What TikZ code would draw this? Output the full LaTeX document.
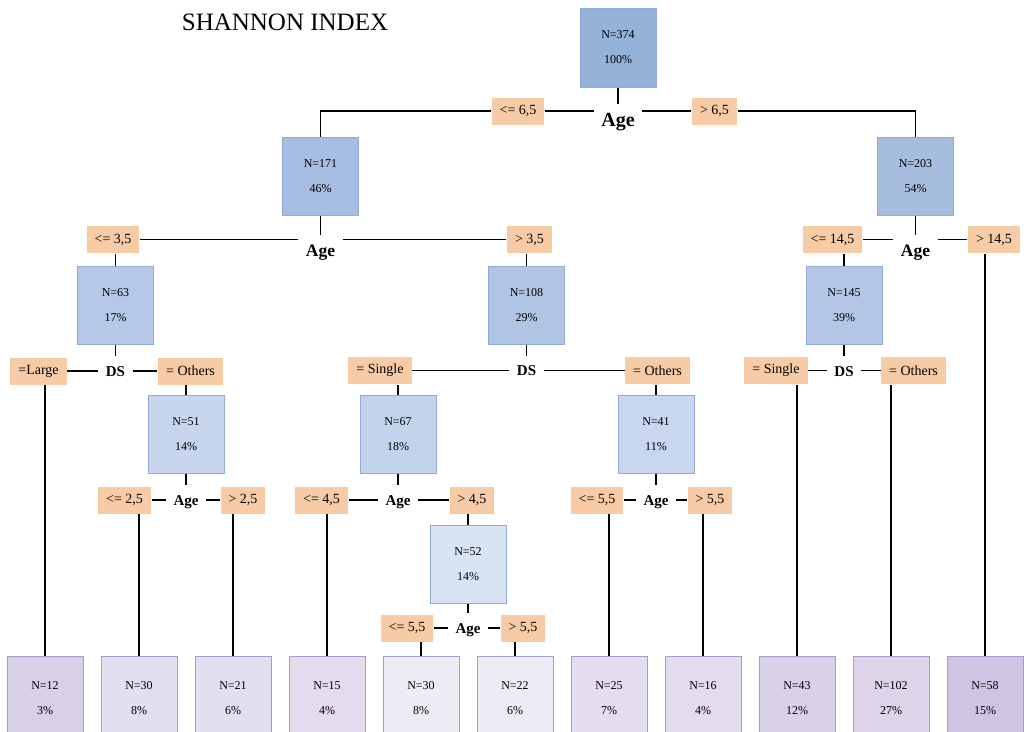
\documentclass[tikz,border=0pt]{standalone}
\usepackage{fontspec}
\setmainfont{Liberation Serif}
\definecolor{boxline}{HTML}{8FAADC}
\definecolor{leafline}{HTML}{A89CCB}
\definecolor{condfill}{HTML}{F8CBA7}
\definecolor{b374}{HTML}{95B3D7}
\definecolor{b171}{HTML}{A6BEE1}
\definecolor{b203}{HTML}{A6BDE0}
\definecolor{b63}{HTML}{B5C8E7}
\definecolor{b108}{HTML}{B0C4E4}
\definecolor{b145}{HTML}{B4C6E6}
\definecolor{b51}{HTML}{C7D6EE}
\definecolor{b67}{HTML}{C4D3EC}
\definecolor{b41}{HTML}{C8D6EF}
\definecolor{b52}{HTML}{D8E3F3}
\definecolor{f12}{HTML}{D8D0E7}
\definecolor{f30a}{HTML}{E4DFF0}
\definecolor{f21}{HTML}{E4DFF0}
\definecolor{f15}{HTML}{E2DCEE}
\definecolor{f30b}{HTML}{EEEBF5}
\definecolor{f22}{HTML}{EEEBF4}
\definecolor{f25}{HTML}{E3DDEF}
\definecolor{f16}{HTML}{E2DCEE}
\definecolor{f43}{HTML}{D9D1E7}
\definecolor{f102}{HTML}{DCD4E9}
\definecolor{f58}{HTML}{CFC5E2}

\begin{document}
\begin{tikzpicture}[x=1pt,y=-1pt,line width=1.3pt,
  inner/.style={draw=boxline,line width=1pt,minimum width=76pt,minimum height=78pt,inner sep=0pt,align=center,font=\fontsize{12}{25}\selectfont},
  leaf/.style={inner,draw=leafline,minimum height=84pt},
  cond/.style={fill=condfill,minimum height=27pt,inner xsep=8pt,inner ysep=0pt,font=\fontsize{14}{14}\selectfont},
  splitlab/.style={inner xsep=7pt,inner ysep=9pt,text depth=0pt},
  bigage/.style={splitlab,text height=13.6pt,font=\bfseries\fontsize{20}{20}\selectfont},
  midage/.style={splitlab,text height=11.9pt,font=\bfseries\fontsize{17.5}{17.5}\selectfont},
  smallsplit/.style={splitlab,text height=10.2pt,font=\bfseries\fontsize{15}{15}\selectfont}]
\useasboundingbox (0,0) rectangle (1024,731);
\node[font=\fontsize{25}{25}\selectfont] (title) at (285,22) {SHANNON INDEX};

\node[inner,fill=b374,minimum height=79pt] (n374) at (618,47.5) {N=374\\100\%};
\node[inner,fill=b171] (n171) at (320.5,176) {N=171\\46\%};
\node[inner,fill=b203] (n203) at (915.5,176) {N=203\\54\%};
\node[inner,fill=b63] (n63) at (115.5,305) {N=63\\17\%};
\node[inner,fill=b108] (n108) at (526.5,305) {N=108\\29\%};
\node[inner,fill=b145] (n145) at (844,305) {N=145\\39\%};
\node[inner,fill=b51] (n51) at (186,434) {N=51\\14\%};
\node[inner,fill=b67] (n67) at (398,434) {N=67\\18\%};
\node[inner,fill=b41] (n41) at (656,434) {N=41\\11\%};
\node[inner,fill=b52] (n52) at (468,564) {N=52\\14\%};

\node[leaf,fill=f12] (t1) at (45,698) {N=12\\3\%};
\node[leaf,fill=f30a] (t2) at (139,698) {N=30\\8\%};
\node[leaf,fill=f21] (t3) at (233,698) {N=21\\6\%};
\node[leaf,fill=f15] (t4) at (327,698) {N=15\\4\%};
\node[leaf,fill=f30b] (t5) at (421,698) {N=30\\8\%};
\node[leaf,fill=f22] (t6) at (515,698) {N=22\\6\%};
\node[leaf,fill=f25] (t7) at (609,698) {N=25\\7\%};
\node[leaf,fill=f16] (t8) at (703,698) {N=16\\4\%};
\node[leaf,fill=f43] (t9) at (797,698) {N=43\\12\%};
\node[leaf,fill=f102] (t10) at (891,698) {N=102\\27\%};
\node[leaf,fill=f58] (t11) at (985,698) {N=58\\15\%};

\node[bigage] (s1) at (618,120) {Age};
\node[midage] (s2) at (320.5,251) {Age};
\node[midage] (s3) at (915.5,251) {Age};
\node[smallsplit] (s4) at (115.5,371) {DS};
\node[smallsplit] (s5) at (526.5,370.5) {DS};
\node[smallsplit] (s6) at (844,371) {DS};
\node[smallsplit] (s7) at (186,500) {Age};
\node[smallsplit] (s8) at (398,500) {Age};
\node[smallsplit] (s9) at (656,500) {Age};
\node[smallsplit] (s10) at (468,628) {Age};

\node[cond] (c1a) at (518,111) {<= 6,5};
\node[cond] (c1b) at (714.5,111) {> 6,5};
\node[cond] (c2a) at (113,239.5) {<= 3,5};
\node[cond] (c2b) at (529.5,239.5) {> 3,5};
\node[cond] (c3a) at (832.5,239.5) {<= 14,5};
\node[cond] (c3b) at (994,239.5) {> 14,5};
\node[cond] (c4a) at (38.5,371) {=Large};
\node[cond] (c4b) at (190.5,371) {= Others};
\node[cond] (c5a) at (380,370.5) {= Single};
\node[cond] (c5b) at (657.5,370.5) {= Others};
\node[cond] (c6a) at (776,370.5) {= Single};
\node[cond] (c6b) at (913.5,370.5) {= Others};
\node[cond] (c7a) at (124.5,500) {<= 2,5};
\node[cond] (c7b) at (243,500) {> 2,5};
\node[cond] (c8a) at (321.5,500) {<= 4,5};
\node[cond] (c8b) at (472,500) {> 4,5};
\node[cond] (c9a) at (597,500) {<= 5,5};
\node[cond] (c9b) at (710,500) {> 5,5};
\node[cond] (c10a) at (407,628) {<= 5,5};
\node[cond] (c10b) at (523,628) {> 5,5};

\draw (n374.south) -- (n374.south |- s1.north);
\draw (c1a.east) -- (c1a.east -| s1.west);
\draw (c1b.west) -- (c1b.west -| s1.east);
\draw (c1a.west) -| (n171.north);
\draw (c1b.east) -| (n203.north);

\draw (n171.south) -- (n171.south |- s2.north);
\draw (c2a.east) -- (c2a.east -| s2.west);
\draw (c2b.west) -- (c2b.west -| s2.east);
\draw (n63.north) -- (n63.north |- c2a.south);
\draw (n108.north) -- (n108.north |- c2b.south);

\draw (n203.south) -- (n203.south |- s3.north);
\draw (c3a.east) -- (c3a.east -| s3.west);
\draw (c3b.west) -- (c3b.west -| s3.east);
\draw (n145.north) -- (n145.north |- c3a.south);
\draw (t11.north) -- (t11.north |- c3b.south);

\draw (n63.south) -- (n63.south |- s4.north);
\draw (c4a.east) -- (c4a.east -| s4.west);
\draw (c4b.west) -- (c4b.west -| s4.east);
\draw (t1.north) -- (t1.north |- c4a.south);
\draw (n51.north) -- (n51.north |- c4b.south);

\draw (n108.south) -- (n108.south |- s5.north);
\draw (c5a.east) -- (c5a.east -| s5.west);
\draw (c5b.west) -- (c5b.west -| s5.east);
\draw (n67.north) -- (n67.north |- c5a.south);
\draw (n41.north) -- (n41.north |- c5b.south);

\draw (n145.south) -- (n145.south |- s6.north);
\draw (c6a.east) -- (c6a.east -| s6.west);
\draw (c6b.west) -- (c6b.west -| s6.east);
\draw (t9.north) -- (t9.north |- c6a.south);
\draw (t10.north) -- (t10.north |- c6b.south);

\draw (n51.south) -- (n51.south |- s7.north);
\draw (c7a.east) -- (c7a.east -| s7.west);
\draw (c7b.west) -- (c7b.west -| s7.east);
\draw (t2.north) -- (t2.north |- c7a.south);
\draw (t3.north) -- (t3.north |- c7b.south);

\draw (n67.south) -- (n67.south |- s8.north);
\draw (c8a.east) -- (c8a.east -| s8.west);
\draw (c8b.west) -- (c8b.west -| s8.east);
\draw (t4.north) -- (t4.north |- c8a.south);
\draw (n52.north) -- (n52.north |- c8b.south);

\draw (n41.south) -- (n41.south |- s9.north);
\draw (c9a.east) -- (c9a.east -| s9.west);
\draw (c9b.west) -- (c9b.west -| s9.east);
\draw (t7.north) -- (t7.north |- c9a.south);
\draw (t8.north) -- (t8.north |- c9b.south);

\draw (n52.south) -- (n52.south |- s10.north);
\draw (c10a.east) -- (c10a.east -| s10.west);
\draw (c10b.west) -- (c10b.west -| s10.east);
\draw (t5.north) -- (t5.north |- c10a.south);
\draw (t6.north) -- (t6.north |- c10b.south);
\end{tikzpicture}
\end{document}
